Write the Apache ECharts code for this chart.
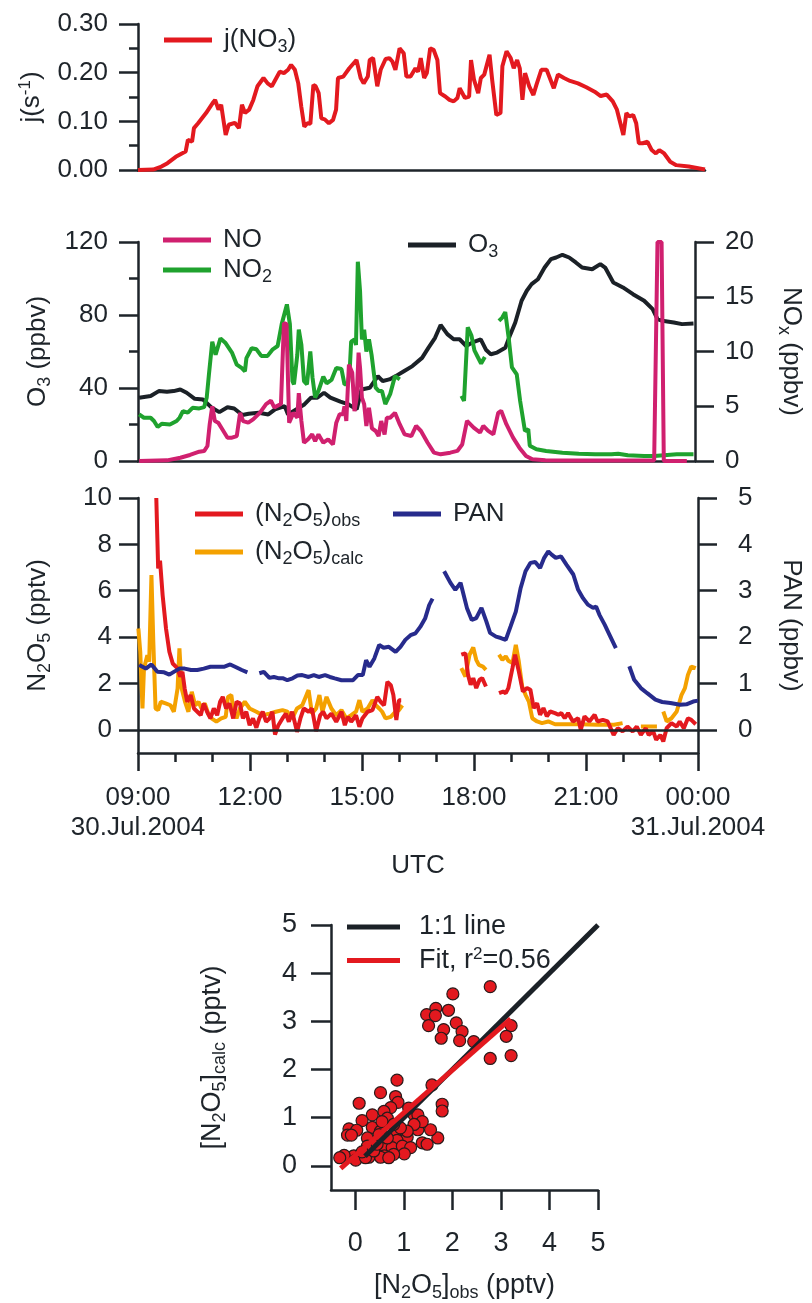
<!DOCTYPE html>
<html>
<head>
<meta charset="utf-8">
<script src="https://cdn.jsdelivr.net/npm/echarts@6/dist/echarts.min.js"></script>
<style>
  html, body { margin: 0; padding: 0; background: #fff; }
  #chart { width: 812px; height: 1303px; }
</style>
</head>
<body>
<div id="chart"></div>
<script>
// time series: [hour UTC (24 = midnight), value]
const jNO3 = [[9.0,0.000],[9.4,0.001],[9.62,0.007],[9.78,0.014],[10.0,0.027],[10.16,0.034],[10.26,0.038],[10.32,0.062],[10.43,0.058],[10.48,0.086],[10.59,0.096],[10.8,0.117],[10.97,0.137],[11.04,0.144],[11.13,0.124],[11.2,0.134],[11.32,0.072],[11.4,0.093],[11.56,0.097],[11.67,0.086],[11.75,0.134],[11.83,0.117],[11.94,0.124],[12.05,0.144],[12.16,0.172],[12.32,0.189],[12.43,0.178],[12.54,0.172],[12.59,0.175],[12.75,0.202],[12.86,0.199],[12.97,0.206],[13.05,0.216],[13.15,0.206],[13.24,0.178],[13.32,0.130],[13.4,0.089],[13.48,0.096],[13.56,0.095],[13.64,0.175],[13.7,0.172],[13.78,0.158],[13.85,0.106],[13.94,0.104],[14.05,0.096],[14.16,0.103],[14.24,0.124],[14.29,0.189],[14.43,0.192],[14.59,0.209],[14.78,0.226],[14.89,0.189],[14.97,0.178],[15.08,0.192],[15.13,0.226],[15.22,0.230],[15.33,0.172],[15.42,0.206],[15.55,0.228],[15.65,0.230],[15.73,0.223],[15.81,0.206],[15.86,0.202],[15.92,0.250],[16.03,0.240],[16.1,0.192],[16.21,0.192],[16.34,0.209],[16.41,0.202],[16.48,0.230],[16.57,0.189],[16.64,0.199],[16.73,0.250],[16.82,0.247],[16.92,0.226],[16.99,0.158],[17.13,0.151],[17.24,0.144],[17.35,0.141],[17.45,0.148],[17.51,0.168],[17.65,0.148],[17.76,0.151],[17.81,0.226],[17.89,0.185],[18.0,0.158],[18.07,0.189],[18.16,0.196],[18.3,0.237],[18.37,0.185],[18.48,0.113],[18.59,0.117],[18.64,0.213],[18.75,0.244],[18.86,0.230],[18.94,0.209],[19.03,0.226],[19.1,0.209],[19.17,0.144],[19.24,0.199],[19.35,0.172],[19.46,0.154],[19.54,0.175],[19.67,0.206],[19.81,0.206],[20.0,0.168],[20.11,0.196],[20.27,0.189],[20.43,0.183],[20.64,0.178],[20.86,0.170],[21.08,0.161],[21.24,0.152],[21.4,0.155],[21.56,0.141],[21.67,0.124],[21.84,0.072],[21.92,0.117],[22.0,0.110],[22.1,0.113],[22.18,0.096],[22.25,0.055],[22.35,0.055],[22.48,0.058],[22.59,0.041],[22.7,0.034],[22.79,0.041],[22.92,0.034],[23.08,0.017],[23.24,0.010],[23.57,0.007],[24.0,0.001]];

const o3 = [[9.03,34.7],[9.34,35.6],[9.56,38.3],[9.78,37.9],[9.96,38.3],[10.14,39.2],[10.31,37.4],[10.53,34.1],[10.75,33.7],[10.97,29.5],[11.19,26.8],[11.41,29.5],[11.59,28.8],[11.81,25.2],[11.98,25.9],[12.25,26.4],[12.51,25.5],[12.69,28.3],[12.95,30.1],[13.04,25.5],[13.26,28.3],[13.48,31.0],[13.66,34.7],[13.83,34.7],[14.01,37.4],[14.18,34.7],[14.45,32.5],[14.67,31.0],[14.89,28.3],[15.02,39.2],[15.24,40.1],[15.46,46.5],[15.59,43.8],[15.77,44.7],[15.94,46.5],[16.16,49.2],[16.39,52.0],[16.65,56.5],[16.82,62.0],[17.0,67.5],[17.15,74.5],[17.33,69.5],[17.5,66.7],[17.66,66.7],[17.84,63],[18.01,65],[18.23,66.7],[18.37,61],[18.5,58.5],[18.67,59.4],[18.89,62],[19.03,69.5],[19.16,75.9],[19.33,87.8],[19.47,93.3],[19.6,96.9],[19.77,99.6],[19.95,106],[20.12,110.6],[20.26,111.5],[20.43,113],[20.61,111.5],[20.79,108.8],[20.96,106],[21.23,105.1],[21.45,107.9],[21.58,106],[21.8,97.8],[22.06,95.1],[22.33,91.4],[22.63,87.8],[22.86,83.2],[22.99,77.7],[23.12,76.8],[23.43,75.9],[23.65,75],[23.96,75.3]];

const no2 = [[9.03,4.26],[9.16,3.95],[9.34,3.95],[9.43,3.65],[9.53,3.1],[9.64,3.4],[9.86,3.34],[10.04,3.65],[10.12,3.95],[10.21,4.56],[10.34,4.41],[10.47,4.86],[10.65,4.8],[10.78,4.92],[10.85,5.77],[10.91,7.9],[11.0,10.9],[11.09,9.7],[11.22,11.2],[11.35,10.8],[11.53,9.9],[11.66,8.8],[11.79,8.5],[11.88,8.2],[11.92,9.4],[12.06,10.3],[12.19,10.2],[12.32,9.6],[12.49,9.6],[12.63,10.2],[12.76,10.5],[12.87,12.5],[13.01,14.3],[13.09,12.5],[13.16,7.3],[13.2,7.0],[13.29,9.7],[13.33,12.0],[13.4,10.6],[13.47,7.3],[13.55,7.0],[13.64,10.0],[13.7,7.6],[13.77,5.8],[13.86,6.4],[13.99,7.7],[14.08,7.1],[14.21,7.4],[14.34,8.5],[14.48,8.4],[14.56,7.0],[14.65,7.0],[14.7,8.2],[14.74,10.9],[14.83,11.1],[14.87,10.6],[14.92,18.2],[14.98,15.5],[15.03,11.1],[15.09,12.0],[15.15,10.0],[15.22,11.1],[15.29,9.7],[15.4,6.7],[15.48,6.4],[15.57,6.4],[15.66,5.2],[15.79,6.1],[15.92,7.75],[16.05,7.45],[16.4,null],[17.71,5.95],[17.78,5.5],[17.88,12.2],[17.98,11.45],[18.06,10.1],[18.15,9.5],[18.24,8.9],[18.28,9.0],[18.34,9.5],[18.5,null],[18.72,12.8],[18.81,13.1],[18.89,13.6],[18.98,11.3],[19.07,8.55],[19.2,7.9],[19.29,5.5],[19.42,2.75],[19.51,2.9],[19.55,1.4],[19.73,1.07],[19.99,0.92],[20.43,0.76],[20.87,0.67],[21.31,0.61],[21.75,0.61],[21.93,0.67],[22.19,0.52],[22.63,0.46],[22.9,0.46],[23.25,0.55],[23.51,0.61],[23.96,0.61]];

const no = [[9.03,0],[9.78,0.06],[10.14,0.3],[10.4,0.55],[10.65,0.85],[10.78,0.91],[10.87,1.37],[10.93,3.34],[11.0,5.0],[11.07,3.65],[11.16,3.5],[11.27,2.9],[11.41,2.13],[11.53,2.13],[11.66,2.28],[11.75,4.4],[11.83,3.65],[11.97,3.5],[12.1,3.8],[12.28,4.4],[12.45,5.2],[12.58,5.5],[12.67,4.9],[12.85,5.2],[12.93,12.6],[13.0,12.5],[13.07,3.5],[13.13,3.95],[13.18,4.4],[13.29,3.95],[13.33,6.2],[13.4,3.65],[13.47,1.67],[13.58,1.98],[13.69,2.43],[13.77,1.82],[13.86,2.43],[13.99,1.67],[14.12,1.98],[14.25,1.52],[14.34,3.5],[14.43,4.26],[14.52,4.26],[14.56,5.0],[14.61,3.65],[14.68,8.8],[14.77,8.05],[14.83,4.56],[14.89,5.78],[14.94,9.9],[14.98,8.5],[15.03,5.78],[15.09,5.2],[15.15,3.2],[15.22,4.86],[15.3,2.98],[15.4,2.74],[15.48,2.28],[15.55,3.65],[15.64,2.43],[15.7,3.95],[15.79,3.95],[15.92,4.4],[16.05,3.34],[16.18,2.43],[16.36,2.28],[16.49,3.2],[16.62,2.74],[16.8,1.67],[16.97,0.76],[17.15,0.61],[17.41,0.76],[17.6,0.92],[17.73,1.5],[17.86,3.66],[18.04,3.05],[18.21,2.6],[18.3,3.2],[18.43,2.75],[18.57,2.44],[18.7,4.4],[18.78,4.58],[18.92,3.36],[19.1,2.14],[19.27,1.22],[19.45,0.46],[19.62,0.15],[19.97,0.06],[21.0,0.04],[22.9,0.05],[22.99,20],[23.1,20],[23.16,0],[23.78,0]];

const n2o5Obs = [[9.49,10],[9.54,6.96],[9.59,7.3],[9.66,5.8],[9.75,4.37],[9.84,3.37],[9.93,2.86],[10.06,2.65],[10.13,2.29],[10.19,2.5],[10.25,1.78],[10.32,1.21],[10.41,1.5],[10.5,0.92],[10.59,0.78],[10.68,0.63],[10.76,1.14],[10.85,0.78],[10.94,0.49],[11.03,0.92],[11.12,0.63],[11.2,1.21],[11.27,1.42],[11.36,0.92],[11.45,1.14],[11.55,0.49],[11.64,1.21],[11.73,1.14],[11.81,0.49],[11.9,0.78],[11.99,0.2],[12.08,0.49],[12.17,0.09],[12.25,0.49],[12.34,0.78],[12.43,0.35],[12.52,0.49],[12.6,0.78],[12.67,-0.2],[12.76,0.2],[12.87,0.49],[12.96,0.7],[13.04,0.35],[13.13,0.78],[13.26,-0.09],[13.35,0.49],[13.44,0.92],[13.57,0.78],[13.66,0.92],[13.77,-0.06],[13.88,0.63],[13.96,0.78],[14.05,0.49],[14.18,0.7],[14.31,0.35],[14.45,0.78],[14.54,0.2],[14.62,0.56],[14.71,0.35],[14.84,0.63],[14.93,0.13],[15.01,0.49],[15.15,0.78],[15.28,0.85],[15.41,1.42],[15.5,1.21],[15.59,1.06],[15.68,2.07],[15.77,1.93],[15.84,1.5],[15.92,0.42],[15.99,1.28],[16.05,1.28],[16.6,null],[17.66,3.24],[17.77,3.3],[17.84,2.37],[17.91,1.94],[17.98,2.23],[18.06,1.8],[18.15,2.16],[18.22,2.23],[18.32,1.87],[18.5,null],[18.67,1.58],[18.78,1.65],[18.85,1.58],[18.92,1.8],[19.03,2.66],[19.1,3.24],[19.2,2.52],[19.31,1.65],[19.42,1.8],[19.51,1.73],[19.6,0.94],[19.69,1.15],[19.77,0.65],[19.86,0.94],[19.95,0.58],[20.04,0.79],[20.17,0.72],[20.26,0.65],[20.34,0.72],[20.43,0.5],[20.52,0.72],[20.65,0.36],[20.79,0.5],[20.86,0],[20.96,0.58],[21.09,0.36],[21.23,0.65],[21.31,0.36],[21.45,0.43],[21.58,0.36],[21.74,-0.22],[21.85,0.07],[21.98,-0.07],[22.11,0.14],[22.25,-0.07],[22.36,0.14],[22.47,-0.22],[22.6,0.07],[22.68,-0.22],[22.8,-0.07],[22.88,-0.43],[22.99,-0.22],[23.07,-0.5],[23.16,0.07],[23.29,0.29],[23.43,0.14],[23.51,0.36],[23.62,0.07],[23.73,0.5],[23.82,0.43],[23.94,0.24]];

const n2o5Calc = [[9.01,4.37],[9.06,3.37],[9.12,0.92],[9.16,2.65],[9.25,3.22],[9.3,2.94],[9.36,6.68],[9.41,3.8],[9.47,0.92],[9.54,0.85],[9.61,1.21],[9.74,1.14],[9.87,1.06],[9.96,0.78],[10.06,1.78],[10.11,3.51],[10.17,1.78],[10.26,1.21],[10.35,0.78],[10.44,1.64],[10.53,1.06],[10.62,1.21],[10.7,0.92],[10.79,1.14],[10.88,0.7],[10.97,0.49],[11.1,0.35],[11.23,0.49],[11.35,0.56],[11.41,1.42],[11.5,1.5],[11.55,0.92],[11.64,0.49],[11.73,0.92],[11.86,1.21],[11.99,0.92],[12.17,0.78],[12.34,0.63],[12.52,0.7],[12.69,0.78],[12.87,0.85],[13.0,0.78],[13.13,0.49],[13.26,0.92],[13.4,1.06],[13.53,1.57],[13.57,1.71],[13.66,0.7],[13.77,0.92],[13.86,1.5],[13.94,0.78],[14.05,1.42],[14.18,0.92],[14.31,0.63],[14.45,0.85],[14.58,0.49],[14.71,0.63],[14.84,0.78],[14.93,1.28],[15.01,0.78],[15.15,0.92],[15.28,1.28],[15.37,1.06],[15.46,0.92],[15.54,0.78],[15.63,0.49],[15.77,0.56],[15.9,0.78],[15.99,0.85],[16.08,1.06],[16.6,null],[17.66,2.66],[17.77,2.3],[17.88,3.24],[17.98,3.55],[18.06,3.02],[18.13,2.8],[18.24,2.73],[18.32,2.59],[18.5,null],[18.67,3.24],[18.76,3.02],[18.85,3.17],[18.92,2.98],[19.03,2.88],[19.12,3.67],[19.2,2.95],[19.29,1.87],[19.38,1.51],[19.47,1.22],[19.56,0.5],[19.69,0.36],[19.82,0.29],[19.99,0.36],[20.17,0.24],[20.43,0.24],[20.87,0.24],[21.31,0.22],[21.75,0.22],[21.98,0.29],[22.2,null],[22.47,0.14],[22.9,0.14],[23.0,null],[23.07,0.79],[23.16,0.36],[23.29,0.5],[23.43,0.79],[23.56,1.51],[23.65,1.8],[23.73,2.37],[23.82,2.73],[23.94,2.66]];

const pan = [[9.03,1.4],[9.21,1.32],[9.36,1.41],[9.52,1.25],[9.7,1.24],[9.84,1.19],[9.96,1.25],[10.11,1.32],[10.25,1.32],[10.42,1.29],[10.59,1.29],[10.76,1.32],[10.94,1.36],[11.12,1.36],[11.3,1.36],[11.47,1.41],[11.6,1.36],[11.78,1.29],[11.93,1.24],[12.1,null],[12.25,1.22],[12.37,1.25],[12.52,1.12],[12.64,1.14],[12.78,1.11],[12.89,1.11],[13.0,1.07],[13.14,1.11],[13.27,1.17],[13.4,1.18],[13.57,1.14],[13.71,1.18],[13.84,1.14],[14.01,1.18],[14.14,1.14],[14.27,1.11],[14.45,1.07],[14.62,1.07],[14.76,1.07],[14.89,1.18],[15.02,1.18],[15.11,1.5],[15.2,1.36],[15.33,1.54],[15.46,1.83],[15.58,1.77],[15.72,1.79],[15.9,1.68],[16.03,1.79],[16.16,1.94],[16.3,2.04],[16.43,2.08],[16.56,2.22],[16.69,2.4],[16.8,2.69],[16.89,2.83],[17.0,null],[17.2,3.42],[17.37,3.17],[17.5,3.02],[17.64,3.17],[17.81,2.63],[17.94,2.37],[18.06,2.41],[18.2,2.63],[18.33,2.34],[18.43,2.09],[18.59,2.01],[18.72,1.98],[18.85,1.94],[18.98,2.23],[19.12,2.55],[19.25,3.06],[19.38,3.42],[19.51,3.6],[19.64,3.62],[19.77,3.49],[19.88,3.71],[19.99,3.85],[20.08,3.78],[20.19,3.71],[20.33,3.74],[20.48,3.56],[20.66,3.35],[20.79,3.02],[20.92,2.84],[21.05,2.7],[21.19,2.63],[21.27,2.66],[21.36,2.48],[21.5,2.27],[21.63,2.05],[21.8,1.76],[22.0,null],[22.16,1.37],[22.29,1.08],[22.47,0.9],[22.64,0.79],[22.86,0.65],[23.04,0.6],[23.26,0.58],[23.52,0.54],[23.69,0.55],[23.87,0.61],[24.0,0.63]];

// scatter: [obs, calc]
const obsVsCalc = [[2.78,3.72],[2.01,3.57],[1.66,3.27],[1.92,3.23],[1.47,3.14],[1.65,3.12],[1.51,2.91],[2.08,2.97],[1.82,2.83],[2.2,2.79],[1.77,2.65],[2.15,2.6],[2.44,2.58],[3.21,2.91],[3.11,2.69],[2.78,2.23],[3.21,2.29],[1.58,1.68],[1.79,1.28],[1.79,1.14],[1.7,0.58],[1.55,0.75],[0.86,1.78],[0.52,1.52],[0.83,1.44],[0.88,1.32],[0.08,1.3],[0.35,1.06],[0.73,1.21],[0.59,1.13],[0.14,0.94],[0.66,0.99],[1.21,1.06],[1.29,1.06],[1.31,0.86],[1.29,0.75],[1.38,0.92],[1.07,0.6],[1.38,0.48],[1.48,0.45],[0.35,0.8],[-0.13,0.77],[0.03,0.74],[-0.16,0.64],[-0.08,0.64],[0.25,0.58],[0.52,0.72],[0.83,0.72],[0.86,0.53],[0.59,0.41],[0.76,0.38],[0.97,0.41],[1.14,0.38],[1.01,0.25],[0.79,0.24],[0.6,0.21],[0.52,0.18],[0.69,0.17],[0.28,0.18],[0.11,0.24],[-0.03,0.21],[-0.23,0.22],[-0.32,0.17],[0.01,0.12],[0.21,0.17],[0.38,0.31],[0.25,0.41],[0.14,0.29],[0.45,0.45],[0.66,0.58],[1.21,0.86],[1.07,0.72],[0.93,0.79],[0.55,0.92],[0.79,0.86],[0.49,0.65],[1.1,1.2]];
const oneToOne = [[0.2,0.2],[5,5]];
const fitLine = [[-0.3,-0.05],[3.2,3.05]];

const timeTicks = [9, 12, 15, 18, 21, 24];
const timeLabels = ['09:00\n30.Jul.2004', '12:00', '15:00', '18:00', '21:00', '00:00\n31.Jul.2004'];

const FONT = '"Liberation Sans", Arial, Helvetica, sans-serif';
const INK = '#1e242a';
const C = { red: '#e3191f', magenta: '#d0206f', green: '#1fa22e', black: '#1b2127', orange: '#f4a100', navy: '#272b8c' };

const rich = {
  sub: { fontSize: 18, fontFamily: FONT, color: INK, padding: [14, 0, 0, 0] },
  sup: { fontSize: 17, fontFamily: FONT, color: INK, padding: [0, 0, 12, 0] }
};
const legendNames = {
  'j(NO3)': 'j(NO{sub|3})', 'NO': 'NO', 'NO2': 'NO{sub|2}', 'O3': 'O{sub|3}',
  'obs': '(N{sub|2}O{sub|5}){sub|obs}', 'calc': '(N{sub|2}O{sub|5}){sub|calc}', 'PAN': 'PAN',
  '1:1 line': '1:1 line', 'Fit': 'Fit, r{sup|2}=0.56'
};
const textBase = { fontFamily: FONT, fontSize: 26, color: INK };

function legend(names, left, top, gap, w, pad, size) {
  return {
    data: names, left: left, top: top, orient: 'vertical', itemGap: gap,
    icon: 'rect', itemWidth: w || 48, itemHeight: 5, padding: 0, selectedMode: false,
    formatter: n => legendNames[n],
    textStyle: Object.assign({}, textBase, { fontSize: size || 26, lineHeight: 28, padding: [0, 0, 0, pad || 7], rich: rich })
  };
}
const line = { color: INK, width: 2.5 };
function timeAxis(grid, full) {
  return {
    type: 'value', gridIndex: grid, min: 9, max: 24, interval: 3,
    axisLine: { show: true, onZero: false, lineStyle: line },
    axisTick: { show: full, length: 18, lineStyle: line },
    minorTick: { show: full, splitNumber: 3, length: 9, lineStyle: line },
    axisLabel: {
      show: full, margin: 30, lineHeight: 30, fontFamily: FONT, fontSize: 26, color: INK,
      formatter: v => timeLabels[timeTicks.indexOf(v)]
    },
    splitLine: { show: false },
    name: full ? 'UTC' : '', nameLocation: 'middle', nameGap: 100, nameTextStyle: textBase
  };
}
function yAx(o) {
  return Object.assign({
    type: 'value', splitLine: { show: false },
    axisLine: { show: true, onZero: false, lineStyle: line },
    axisTick: { show: true, length: 19, lineStyle: line },
    nameLocation: 'middle', nameTextStyle: Object.assign({}, textBase, { rich: rich })
  }, o);
}
function ts(name, data, color, xi, yi, extra) {
  return Object.assign({
    name: name, type: 'line', data: data, xAxisIndex: xi, yAxisIndex: yi,
    showSymbol: false, symbol: 'none', connectNulls: false, animation: false,
    lineStyle: { color: color, width: 4 }, itemStyle: { color: color }
  }, extra || {});
}

const chart = echarts.init(document.getElementById('chart'), null, { renderer: 'canvas' });
chart.setOption({
  backgroundColor: '#fff',
  animation: false,
  textStyle: { fontFamily: FONT },
  grid: [
    { left: 138, width: 567, top: 24, height: 146 },
    { left: 138, width: 567, top: 242, height: 219 },
    { left: 138, width: 567, top: 498, height: 255 },
    { left: 331, width: 267, top: 925, height: 268 }
  ],
  legend: [
    legend(['j(NO3)'], 164, 26, 2),
    legend(['NO', 'NO2'], 163, 226, 2),
    legend(['O3'], 408, 231, 2),
    legend(['obs', 'calc'], 195, 500, 8),
    legend(['PAN'], 393, 500, 2),
    legend(['1:1 line', 'Fit'], 347, 913, 5, 53, 14, 27)
  ],
  xAxis: [
    timeAxis(0, false), timeAxis(1, false), timeAxis(2, true),
    {
      type: 'value', gridIndex: 3, min: -0.5, max: 5, interval: 0.5,
      axisLine: { show: true, onZero: false, lineStyle: line },
      axisTick: { show: true, length: 20, lineStyle: line, customValues: [0, 1, 2, 3, 4, 5] },
      axisLabel: { margin: 40, fontFamily: FONT, fontSize: 27, color: INK, customValues: [0, 1, 2, 3, 4, 5] },
      splitLine: { show: false },
      name: '[N{sub|2}O{sub|5}]{sub|obs} (pptv)', nameLocation: 'middle', nameGap: 80,
      nameTextStyle: Object.assign({}, textBase, { fontSize: 27, rich: rich })
    }
  ],
  yAxis: [
    yAx({ gridIndex: 0, min: 0, max: 0.3, interval: 0.1,
      minorTick: { show: true, splitNumber: 2, length: 9, lineStyle: line },
      axisLabel: { margin: 30, fontFamily: FONT, fontSize: 26, color: INK, formatter: v => v.toFixed(2) },
      name: 'j(s{sup|-1})', nameGap: 92 }),
    yAx({ gridIndex: 1, min: 0, max: 120, interval: 40,
      minorTick: { show: true, splitNumber: 2, length: 9, lineStyle: line },
      axisLabel: { margin: 30, fontFamily: FONT, fontSize: 26, color: INK },
      name: 'O{sub|3} (ppbv)', nameGap: 84 }),
    yAx({ gridIndex: 1, position: 'right', min: 0, max: 20, interval: 5,
      axisLabel: { margin: 30, fontFamily: FONT, fontSize: 26, color: INK },
      name: 'NO{sub|x} (ppbv)', nameGap: 80, nameRotate: -90 }),
    yAx({ gridIndex: 2, min: -1, max: 10, interval: 1,
      axisTick: { show: true, length: 19, lineStyle: line, customValues: [0, 2, 4, 6, 8, 10] },
      axisLabel: { margin: 26, fontFamily: FONT, fontSize: 26, color: INK, customValues: [0, 2, 4, 6, 8, 10] },
      name: 'N{sub|2}O{sub|5} (pptv)', nameGap: 84 }),
    yAx({ gridIndex: 2, position: 'right', min: -0.5, max: 5, interval: 0.5,
      axisTick: { show: true, length: 19, lineStyle: line, customValues: [0, 1, 2, 3, 4, 5] },
      axisLabel: { margin: 40, fontFamily: FONT, fontSize: 26, color: INK, customValues: [0, 1, 2, 3, 4, 5] },
      name: 'PAN (ppbv)', nameGap: 80, nameRotate: -90 }),
    yAx({ gridIndex: 3, min: -0.5, max: 5, interval: 0.5,
      axisTick: { show: true, length: 20, lineStyle: line, customValues: [0, 1, 2, 3, 4, 5] },
      axisLabel: { margin: 34, fontFamily: FONT, fontSize: 27, color: INK, customValues: [0, 1, 2, 3, 4, 5] },
      name: '[N{sub|2}O{sub|5}]{sub|calc} (pptv)', nameGap: 102,
      nameTextStyle: Object.assign({}, textBase, { fontSize: 27, rich: rich }) })
  ],
  series: [
    ts('j(NO3)', jNO3, C.red, 0, 0),
    ts('O3', o3, C.black, 1, 1),
    ts('NO2', no2, C.green, 1, 2),
    ts('NO', no, C.magenta, 1, 2),
    ts('calc', n2o5Calc, C.orange, 2, 3),
    ts('obs', n2o5Obs, C.red, 2, 3, {
      markLine: { silent: true, symbol: 'none', label: { show: false },
        lineStyle: { color: INK, width: 2.5, type: 'solid' }, data: [{ yAxis: 0 }] }
    }),
    ts('PAN', pan, C.navy, 2, 4),
    {
      name: 'points', type: 'scatter', data: obsVsCalc, xAxisIndex: 3, yAxisIndex: 5,
      symbolSize: 12, itemStyle: { color: C.red, opacity: 1, borderColor: '#2a1a1a', borderWidth: 1.2 }
    },
    ts('1:1 line', oneToOne, C.black, 3, 5, { lineStyle: { color: C.black, width: 5 } }),
    ts('Fit', fitLine, C.red, 3, 5, { lineStyle: { color: C.red, width: 5 } })
  ]
});
</script>
</body>
</html>
